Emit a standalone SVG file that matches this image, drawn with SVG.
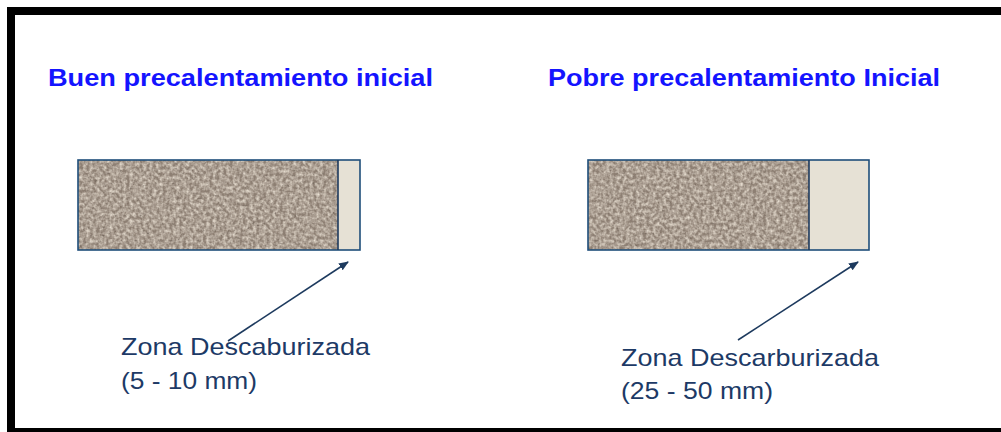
<svg xmlns="http://www.w3.org/2000/svg" width="1001" height="432" viewBox="0 0 1001 432">
<style>
.title{font-family:"Liberation Sans",Arial,sans-serif;font-weight:bold;font-size:24px;fill:#1414ff}
.lbl{font-family:"Liberation Sans",Arial,sans-serif;font-size:24px;fill:#1d3a66}
.box{fill:none;stroke:#1f4e7a;stroke-width:1.6}
.light{fill:#e6e1d5}
.conn{stroke:#1d3a5e;stroke-width:1.6;fill:none}
</style>
<defs>
<filter id="granite" x="0" y="0" width="1" height="1" color-interpolation-filters="sRGB">
<feTurbulence type="fractalNoise" baseFrequency="0.3" numOctaves="2" seed="3" result="n"/>
<feColorMatrix in="n" type="matrix" values="0 0 0 0 0  0 0 0 0 0  0 0 0 0 0  1.6 0 0 0 -0.45" result="a"/>
<feFlood flood-color="#e8dfd2" result="w"/>
<feComposite in="w" in2="a" operator="in" result="spots"/>
<feFlood flood-color="#8d7f73" result="base"/>
<feMerge><feMergeNode in="base"/><feMergeNode in="spots"/></feMerge>
</filter>
<filter id="granite2" x="0" y="0" width="1" height="1" color-interpolation-filters="sRGB">
<feTurbulence type="fractalNoise" baseFrequency="0.4" numOctaves="1" seed="7" result="n"/>
<feColorMatrix in="n" type="matrix" values="0 0 0 0 0  0 0 0 0 0  0 0 0 0 0  -2 0 0 0 0.7" result="a"/>
<feFlood flood-color="#3e342c" result="d"/>
<feComposite in="d" in2="a" operator="in" result="dark"/>
<feMerge><feMergeNode in="SourceGraphic"/><feMergeNode in="dark"/></feMerge>
</filter>
<marker id="ah" markerWidth="10" markerHeight="8" refX="9" refY="4" orient="auto" markerUnits="userSpaceOnUse">
<path d="M0,0 L10,4 L0,8 Z" fill="#1d3a5e"/>
</marker>
</defs>
<rect x="0" y="0" width="1001" height="432" fill="#ffffff"/>
<g id="frame">
<rect x="7" y="7" width="994" height="8" fill="#000"/>
<rect x="7" y="7" width="8" height="425" fill="#000"/>
<rect x="7" y="428" width="994" height="4" fill="#000"/>
</g>
<g id="titulo-buen"><text class="title" x="48" y="86" textLength="385" lengthAdjust="spacingAndGlyphs">Buen precalentamiento inicial</text></g>
<g id="titulo-pobre"><text class="title" x="548" y="86" textLength="392" lengthAdjust="spacingAndGlyphs">Pobre precalentamiento Inicial</text></g>
<g id="barra-buen">
<g filter="url(#granite2)"><rect x="78" y="160" width="260" height="90" filter="url(#granite)"/></g>
<rect class="light" x="338" y="160" width="22" height="90"/>
<rect class="box" x="78" y="160" width="282" height="90"/>
<line class="conn" x1="338" y1="160" x2="338" y2="250"/>
</g>
<g id="barra-pobre">
<g filter="url(#granite2)"><rect x="588" y="160" width="221" height="90" filter="url(#granite)"/></g>
<rect class="light" x="809" y="160" width="60" height="90"/>
<rect class="box" x="588" y="160" width="281" height="90"/>
<line class="conn" x1="809" y1="160" x2="809" y2="250"/>
</g>
<g id="connectors">
<line class="conn" x1="228" y1="341" x2="348" y2="262" marker-end="url(#ah)"/>
<line class="conn" x1="738" y1="340" x2="858" y2="262" marker-end="url(#ah)"/>
</g>
<g id="label-buen">
<text class="lbl" x="121" y="355" textLength="249" lengthAdjust="spacingAndGlyphs">Zona Descaburizada</text>
<text class="lbl" x="121" y="389" textLength="136" lengthAdjust="spacingAndGlyphs">(5 - 10 mm)</text>
</g>
<g id="label-pobre">
<text class="lbl" x="621" y="366" textLength="258" lengthAdjust="spacingAndGlyphs">Zona Descarburizada</text>
<text class="lbl" x="621" y="399" textLength="152" lengthAdjust="spacingAndGlyphs">(25 - 50 mm)</text>
</g>
</svg>
